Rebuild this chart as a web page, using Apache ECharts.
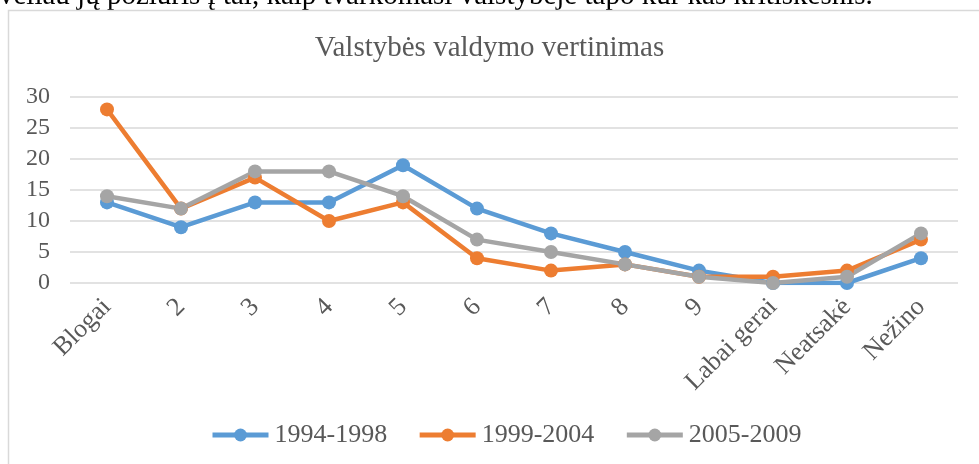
<!DOCTYPE html>
<html>
<head>
<meta charset="utf-8">
<script src="https://cdn.jsdelivr.net/npm/echarts@6/dist/echarts.min.js"></script>
<style>
  html, body { margin: 0; padding: 0; background: #fff; }
  #chart { width: 979px; height: 464px; }
</style>
</head>
<body>
<div id="chart"></div>
<script>
// kategorijos ir reikšmės
var categories = ['Blogai', '2', '3', '4', '5', '6', '7', '8', '9', 'Labai gerai', 'Neatsakė', 'Nežino'];
var s1994 = [13, 9, 13, 13, 19, 12, 8, 5, 2, 0, 0, 4];
var s1999 = [28, 12, 17, 10, 13, 4, 2, 3, 1, 1, 2, 7];
var s2005 = [14, 12, 18, 18, 14, 7, 5, 3, 1, 0, 1, 8];
var seriesNames = ['1994-1998', '1999-2004', '2005-2009'];
var colors = ['#5B9BD5', '#ED7D31', '#A5A5A5'];

var font = '"Liberation Serif", "DejaVu Serif", serif';
var chart = echarts.init(document.getElementById('chart'));

function line(name, data, color) {
  return {
    name: name,
    type: 'line',
    data: data,
    symbol: 'circle',
    symbolSize: 14,
    lineStyle: { width: 4.5, color: color },
    itemStyle: { color: color },
    emphasis: { disabled: true }
  };
}

chart.setOption({
  animation: false,
  color: colors,
  title: {
    text: 'Valstybės valdymo vertinimas',
    left: 'center',
    top: 29,
    textStyle: { fontFamily: font, fontSize: 29, fontWeight: 'normal', color: '#595959' }
  },
  graphic: [
    {
      type: 'text',
      style: {
        x: -1, y: -4, verticalAlign: 'middle',
        text: 'vėliau jų požiūris į tai, kaip tvarkomasi valstybėje tapo kur kas kritiškesnis.',
        font: '29px ' + font, fill: '#000'
      }
    },
    {
      type: 'rect',
      shape: { x: 8.5, y: 10.5, width: 990, height: 480 },
      style: { fill: 'none', stroke: '#d9d9d9', lineWidth: 1.5 },
      silent: true
    }
  ],
  legend: {
    data: seriesNames,
    top: 417,
    left: 205,
    itemWidth: 56,
    itemHeight: 16,
    itemGap: 30,
    lineStyle: { width: 5 },
    textStyle: { fontFamily: font, fontSize: 26, color: '#595959', padding: [0, 0, 0, 1] }
  },
  grid: { left: 70, right: 21, top: 97, bottom: 181 },
  xAxis: {
    type: 'category',
    data: categories,
    boundaryGap: true,
    axisLine: { show: false },
    axisTick: { show: false },
    axisLabel: { rotate: 45, fontFamily: font, fontSize: 26, color: '#595959', margin: 20 }
  },
  yAxis: {
    type: 'value',
    min: 0,
    max: 30,
    interval: 5,
    axisLine: { show: false },
    axisTick: { show: false },
    axisLabel: { fontFamily: font, fontSize: 24, color: '#595959', margin: 20 },
    splitLine: { lineStyle: { color: '#d9d9d9', width: 1.5 } }
  },
  series: [
    line(seriesNames[0], s1994, colors[0]),
    line(seriesNames[1], s1999, colors[1]),
    line(seriesNames[2], s2005, colors[2])
  ]
});
</script>
</body>
</html>
